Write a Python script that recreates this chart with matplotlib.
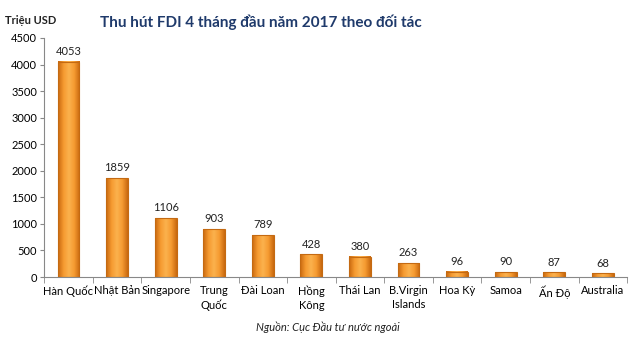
import numpy as np
import matplotlib.pyplot as plt
from matplotlib.colors import LinearSegmentedColormap

# Dữ liệu
doi_tac = ['Hàn Quốc', 'Nhật Bản', 'Singapore', 'Trung\nQuốc', 'Đài Loan', 'Hồng\nKông',
           'Thái Lan', 'B.Virgin\nIslands', 'Hoa Kỳ', 'Samoa', 'Ấn Độ', 'Australia']
von_fdi = [4053, 1859, 1106, 903, 789, 428, 380, 263, 96, 90, 87, 68]
y_ticks = [0, 500, 1000, 1500, 2000, 2500, 3000, 3500, 4000, 4500]

plt.rcParams['font.family'] = ['Lato', 'DejaVu Sans']

fig = plt.figure(figsize=(6.4, 3.45), dpi=100)
ax = fig.add_axes([0.069, 0.197, 0.911, 0.693])

x = np.arange(len(doi_tac))
width = 0.45
bars = ax.bar(x, von_fdi, width=width, color='#F5962C', edgecolor='#C46A12', linewidth=0.8, zorder=2)

# gradient ngang cho cột (tối ở hai mép, sáng ở giữa)
cmap = LinearSegmentedColormap.from_list('cam', ['#C9690F', '#F59A30', '#FBB24E', '#F59A30', '#C9690F'])
grad = np.linspace(0, 1, 64).reshape(1, -1)
for b in bars:
    x0, y0 = b.get_x(), b.get_y()
    ax.imshow(grad, cmap=cmap, aspect='auto', extent=[x0, x0 + b.get_width(), y0, y0 + b.get_height()],
              zorder=2.5)
    b.set_facecolor('none')
    b.set_zorder(3)

for xi, v in zip(x, von_fdi):
    ax.text(xi, v + 90, str(v), ha='center', va='bottom', fontsize=8, color='#222222')

ax.set_xlim(-0.5, len(doi_tac) - 0.5)
ax.set_ylim(0, 4500)
ax.set_yticks(y_ticks)
ax.tick_params(axis='y', labelsize=8, length=3, color='#888888', pad=2)
ax.set_xticks(x)
ax.set_xticklabels(doi_tac, fontsize=8, linespacing=1.3)
ax.tick_params(axis='x', length=0, pad=6)
ax.set_xticks(np.arange(-0.5, len(doi_tac)), minor=True)
ax.tick_params(axis='x', which='minor', length=4, color='#888888')
for s in ['top', 'right']:
    ax.spines[s].set_visible(False)
ax.spines['left'].set_color('#888888')
ax.spines['bottom'].set_color('#888888')

fig.text(0.408, 0.936, 'Thu hút FDI 4 tháng đầu năm 2017 theo đối tác', ha='center', va='center',
         fontsize=11, fontweight='bold', color='#1F3A6B')
fig.text(0.008, 0.94, 'Triệu USD', ha='left', va='center', fontsize=8, fontweight='bold', color='#222222')
fig.text(0.512, 0.052, 'Nguồn: Cục Đầu tư nước ngoài', ha='center', va='center', fontsize=8,
         style='italic', color='#222222')

fig.savefig('out.png', dpi=100)
